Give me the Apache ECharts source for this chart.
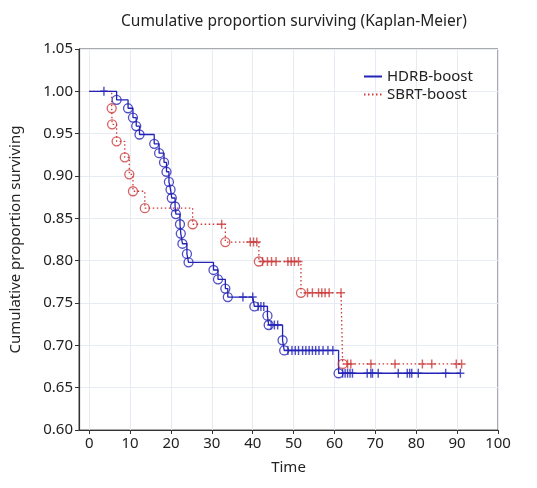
<!DOCTYPE html>
<html><head><meta charset="utf-8">
<script src="https://cdn.jsdelivr.net/npm/echarts@6/dist/echarts.min.js"></script>
<style>html,body{margin:0;padding:0;background:#fff}#c{width:537px;height:488px}</style>
</head><body><div id="c"></div>
<script>
const xTicks = [0,10,20,30,40,50,60,70,80,90,100];
const seriesNames = ['HDRB-boost','SBRT-boost'];
// HDRB-boost: complete (event) points and censored points [time, survival]
const hdrbEvents = [[6.7,0.990],[9.5,0.980],[10.7,0.969],[11.5,0.959],[12.3,0.949],
  [15.9,0.938],[17.1,0.927],[18.3,0.916],[18.9,0.905],[19.5,0.893],[19.9,0.884],[20.2,0.874],
  [21.0,0.864],[21.2,0.855],[22.2,0.843],[22.4,0.832],[22.8,0.820],[23.9,0.808],[24.3,0.798],
  [30.4,0.789],[31.5,0.778],[33.3,0.767],[33.9,0.757],[40.4,0.746],[43.6,0.735],[43.9,0.724],
  [47.3,0.706],[47.7,0.694],[61.0,0.667]];
const hdrbCensored = [[3.6,1.0],[37.6,0.757],[40.0,0.757],[41.3,0.746],[42.0,0.746],[42.7,0.746],
  [44.5,0.724],[45.3,0.724],[46.1,0.724],
  [48.6,0.694],[49.6,0.694],[50.4,0.694],[51.2,0.694],[52.2,0.694],[53.0,0.694],[53.8,0.694],
  [54.6,0.694],[55.4,0.694],[56.2,0.694],[57.2,0.694],[58.4,0.694],[59.6,0.694],
  [62.0,0.667],[62.6,0.667],[63.2,0.667],[63.8,0.667],[64.4,0.667],[68.0,0.667],[68.9,0.667],
  [69.3,0.667],[70.7,0.667],[75.6,0.667],[77.8,0.667],[78.4,0.667],[78.9,0.667],[80.5,0.667],
  [87.2,0.667],[90.8,0.667]];
// SBRT-boost
const sbrtEvents = [[5.5,0.980],[5.6,0.961],[6.7,0.941],[8.7,0.922],[9.8,0.902],[10.7,0.882],
  [13.6,0.862],[25.3,0.843],[33.3,0.822],[41.5,0.799],[51.8,0.762],[62.0,0.678]];
const sbrtCensored = [[32.4,0.843],[39.4,0.822],[40.2,0.822],[41.0,0.822],
  [42.4,0.799],[43.6,0.799],[44.6,0.799],[45.7,0.799],[48.6,0.799],[49.4,0.799],[50.2,0.799],[51.2,0.799],
  [53.4,0.762],[54.6,0.762],[56.1,0.762],[56.9,0.762],[57.7,0.762],[58.7,0.762],[61.6,0.762],
  [63.2,0.678],[64.0,0.678],[68.9,0.678],[74.8,0.678],[81.5,0.678],[83.8,0.678],[89.8,0.678],[91.1,0.678]];

function kmLine(ev, ce){
  const pts = ev.concat(ce).slice().sort((a,b)=>a[0]-b[0]);
  return [[0,1.0]].concat(pts);
}
const BLUE = '#2323b8', RED = '#cc3a3a';
const PLUS = 'path://M-0.8,-5H0.8V-0.8H4.5V0.8H0.8V5H-0.8V0.8H-4.5V-0.8H-0.8Z';
const FONT = '"Noto Sans", "Open Sans", sans-serif';

const chart = echarts.init(document.getElementById('c'), null, {renderer:'canvas'});
chart.setOption({
  animation:false,
  backgroundColor:'#fff',
  title:{text:'Cumulative proportion surviving (Kaplan-Meier)', left:116, top:9,
    textStyle:{fontFamily:FONT, fontSize:15.5, fontWeight:'normal', color:'#222'}},
  legend:{data:seriesNames.map(n=>({name:n})), orient:'vertical', left:358, top:64,
    itemWidth:18, itemHeight:10, itemGap:3,
    itemStyle:{color:'rgba(0,0,0,0)', borderWidth:0, opacity:0},
    textStyle:{fontFamily:FONT, fontSize:15, color:'#222'}},
  grid:{left:79, right:39, top:49, bottom:58, show:true, borderColor:'#555', borderWidth:1},
  xAxis:{type:'value', min:-2.5, max:100,
    name:'Time', nameLocation:'middle', nameGap:30,
    nameTextStyle:{fontFamily:FONT, fontSize:15, color:'#222'},
    axisLine:{show:true, onZero:false, lineStyle:{color:'#333', width:1.2}},
    axisTick:{show:true, inside:false, length:4, customValues:xTicks, lineStyle:{color:'#333'}},
    axisLabel:{customValues:xTicks, margin:6, fontFamily:FONT, fontSize:15, color:'#222'},
    splitLine:{show:true, lineStyle:{color:'#e6ebf4', width:1}}},
  yAxis:{type:'value', min:0.6, max:1.05, interval:0.05,
    name:'Cumulative proportion surviving', nameLocation:'middle', nameGap:56,
    nameTextStyle:{fontFamily:FONT, fontSize:15, color:'#222'},
    axisLine:{show:true, onZero:false, lineStyle:{color:'#333', width:1.2}},
    axisTick:{show:true, inside:false, length:4, lineStyle:{color:'#333'}},
    axisLabel:{margin:6, fontFamily:FONT, fontSize:15, color:'#222', formatter:v=>v.toFixed(2)},
    splitLine:{show:true, lineStyle:{color:'#e6ebf4', width:1}}},
  series:[
    {name:seriesNames[0], type:'line', step:'end', data:kmLine(hdrbEvents,hdrbCensored),
      symbol:'none', color:BLUE, lineStyle:{color:BLUE, width:1.3}, z:3},
    {name:seriesNames[1], type:'line', step:'end', data:kmLine(sbrtEvents,sbrtCensored),
      symbol:'none', color:RED, lineStyle:{color:RED, width:1.3, type:[1.5,2.5]}, z:2},
    {name:'hdrbEv', type:'scatter', data:hdrbEvents, symbol:'circle', symbolSize:9,
      itemStyle:{color:'rgba(0,0,0,0)', borderColor:BLUE, borderWidth:1.3}, z:4},
    {name:'hdrbCe', type:'scatter', data:hdrbCensored, symbol:PLUS, symbolSize:[8,9],
      itemStyle:{color:BLUE}, z:4},
    {name:'sbrtEv', type:'scatter', data:sbrtEvents, symbol:'circle', symbolSize:9,
      itemStyle:{color:'rgba(0,0,0,0)', borderColor:RED, borderWidth:1.3}, z:4},
    {name:'sbrtCe', type:'scatter', data:sbrtCensored, symbol:PLUS, symbolSize:[8,9],
      itemStyle:{color:RED}, z:4}
  ]
});
</script></body></html>
